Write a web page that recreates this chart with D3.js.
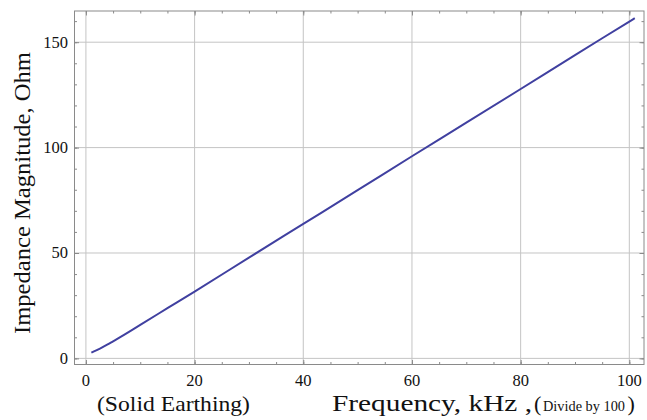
<!DOCTYPE html>
<html>
<head>
<meta charset="utf-8">
<script src="https://cdn.jsdelivr.net/npm/d3@7"></script>
<style>
  html, body { margin: 0; padding: 0; background: #fff; }
  svg { display: block; font-family: "Liberation Serif", "Times New Roman", serif; }
</style>
</head>
<body>
<svg id="chart" width="647" height="420"></svg>
<script>
// Impedance magnitude vs. frequency (solid earthing)
const frequency = [1, 2, 3, 4, 5, 6, 8, 10, 15, 20, 30, 40, 50, 60, 70, 80, 90, 100, 101];
const impedance = [2.7, 3.9, 5.2, 6.6, 8.1, 9.6, 12.7, 15.9, 23.8, 31.7, 47.8, 63.8, 79.8, 95.9, 111.8, 127.8, 143.9, 159.8, 161.4];

const xMajorTicks = [0, 20, 40, 60, 80, 100];
const yMajorTicks = [0, 50, 100, 150];
const xMinorTicks = d3.range(0, 101, 5);
const yMinorTicks = d3.range(0, 161, 10);

const frame = { left: 74.5, right: 644, top: 11, bottom: 364.5 };

const svg = d3.select("#chart");

const x = d3.scaleLinear().domain([-2.1, 102.7]).range([frame.left, frame.right]);
const y = d3.scaleLinear().domain([-2.9, 164.8]).range([frame.bottom, frame.top]);

const gridColor = "#c4c4c4";
const frameColor = "#8a8a8a";

// grid lines at major ticks
svg.append("g").selectAll("line").data(xMajorTicks).join("line")
  .attr("x1", d => x(d)).attr("x2", d => x(d))
  .attr("y1", frame.top).attr("y2", frame.bottom)
  .attr("stroke", gridColor).attr("stroke-width", 1);
svg.append("g").selectAll("line").data(yMajorTicks).join("line")
  .attr("y1", d => y(d)).attr("y2", d => y(d))
  .attr("x1", frame.left).attr("x2", frame.right)
  .attr("stroke", gridColor).attr("stroke-width", 1);

// frame ticks (inward) on all four sides
function frameAxis(axis, transform, ticks, size) {
  const g = svg.append("g").attr("transform", transform)
    .call(axis.tickValues(ticks).tickSize(size).tickFormat(""));
  g.select(".domain").remove();
  g.selectAll(".tick line").attr("stroke", frameColor);
}
frameAxis(d3.axisBottom(x), `translate(0,${frame.bottom})`, xMinorTicks, -2.5);
frameAxis(d3.axisBottom(x), `translate(0,${frame.bottom})`, xMajorTicks, -4.5);
frameAxis(d3.axisTop(x), `translate(0,${frame.top})`, xMinorTicks, -2.5);
frameAxis(d3.axisTop(x), `translate(0,${frame.top})`, xMajorTicks, -4.5);
frameAxis(d3.axisLeft(y), `translate(${frame.left},0)`, yMinorTicks, -2.5);
frameAxis(d3.axisLeft(y), `translate(${frame.left},0)`, yMajorTicks, -4.5);
frameAxis(d3.axisRight(y), `translate(${frame.right},0)`, yMinorTicks, -2.5);
frameAxis(d3.axisRight(y), `translate(${frame.right},0)`, yMajorTicks, -4.5);

// frame
svg.append("rect")
  .attr("x", frame.left).attr("y", frame.top)
  .attr("width", frame.right - frame.left).attr("height", frame.bottom - frame.top)
  .attr("fill", "none").attr("stroke", frameColor).attr("stroke-width", 1);

// tick labels
svg.append("g").selectAll("text").data(xMajorTicks).join("text")
  .attr("x", d => x(d)).attr("y", 386)
  .attr("text-anchor", "middle")
  .attr("font-size", 16.5).attr("fill", "#111")
  .text(d => d);
svg.append("g").selectAll("text").data(yMajorTicks).join("text")
  .attr("x", 68).attr("y", d => y(d)).attr("dy", "0.33em")
  .attr("text-anchor", "end")
  .attr("font-size", 16.5).attr("fill", "#111")
  .text(d => d);

// impedance curve
const line = d3.line()
  .x((d, i) => x(frequency[i]))
  .y(d => y(d))
  .curve(d3.curveMonotoneX);
svg.append("path")
  .datum(impedance)
  .attr("d", line)
  .attr("fill", "none")
  .attr("stroke", "#4040a0")
  .attr("stroke-width", 2);

// axis titles
svg.append("text")
  .attr("transform", "translate(30,193) rotate(-90)")
  .attr("text-anchor", "middle")
  .attr("font-size", 24).attr("fill", "#111")
  .attr("textLength", 282).attr("lengthAdjust", "spacingAndGlyphs")
  .text("Impedance Magnitude, Ohm");

svg.append("text")
  .attr("x", 97).attr("y", 411)
  .attr("font-size", 22).attr("fill", "#111")
  .attr("textLength", 153).attr("lengthAdjust", "spacingAndGlyphs")
  .text("(Solid Earthing)");

svg.append("text")
  .attr("x", 332).attr("y", 411)
  .attr("font-size", 23.5).attr("fill", "#111")
  .attr("textLength", 200).attr("lengthAdjust", "spacingAndGlyphs")
  .text("Frequency, kHz ,");
svg.append("text")
  .attr("x", 534).attr("y", 411)
  .attr("font-size", 22).attr("fill", "#111")
  .text("(");
svg.append("text")
  .attr("x", 543).attr("y", 411)
  .attr("font-size", 14).attr("fill", "#111")
  .attr("textLength", 82).attr("lengthAdjust", "spacingAndGlyphs")
  .text("Divide by 100");
svg.append("text")
  .attr("x", 627.5).attr("y", 411)
  .attr("font-size", 22).attr("fill", "#111")
  .text(")");
</script>
</body>
</html>
